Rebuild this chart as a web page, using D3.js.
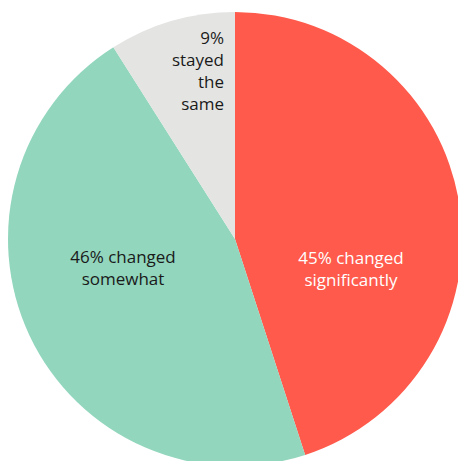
<!DOCTYPE html>
<html>
<head>
<meta charset="utf-8">
<script src="https://cdn.jsdelivr.net/npm/d3@7"></script>
<style>
  html, body { margin: 0; padding: 0; background: #fff; }
  svg { display: block; }
  text { font-family: "Open Sans", "Noto Sans", sans-serif; font-size: 17px; }
</style>
</head>
<body>
<svg id="chart" width="458" height="461"></svg>
<script>
// Share of responses
const categories = ["changed significantly", "changed somewhat", "stayed the same"];
const values = [45, 46, 9];
const labelLines = [
  ["45% changed", "significantly"],
  ["46% changed", "somewhat"],
  ["9%", "stayed", "the", "same"]
];
const colors = ["#FF5A4B", "#91D6BD", "#E4E5E3"];
const textColors = ["#ffffff", "#1a1a1a", "#1a1a1a"];

const width = 458, height = 461;
const cx = 235, cy = 239, radius = 227;

const svg = d3.select("#chart");
const g = svg.append("g").attr("transform", `translate(${cx},${cy})`);

const pie = d3.pie().sort(null).value(d => d.value);
const arcs = pie(categories.map((c, i) => ({ name: c, value: values[i], i })));
const arc = d3.arc().innerRadius(0).outerRadius(radius);

g.selectAll("path.slice")
  .data(arcs)
  .join("path")
  .attr("class", "slice")
  .attr("d", arc)
  .attr("fill", d => colors[d.data.i]);

// label placement: anchor point and alignment per slice
const labelLayout = [
  { x: 116, y: 25, anchor: "middle" },
  { x: -112, y: 24, anchor: "middle" },
  { x: -11, y: -195, anchor: "end" }
];
const lineHeight = 22;

arcs.forEach(d => {
  const i = d.data.i;
  const L = labelLayout[i];
  const t = g.append("text")
    .attr("text-anchor", L.anchor)
    .attr("fill", textColors[i]);
  labelLines[i].forEach((line, k) => {
    t.append("tspan")
      .attr("x", L.x)
      .attr("y", L.y + k * lineHeight)
      .text(line);
  });
});
</script>
</body>
</html>
